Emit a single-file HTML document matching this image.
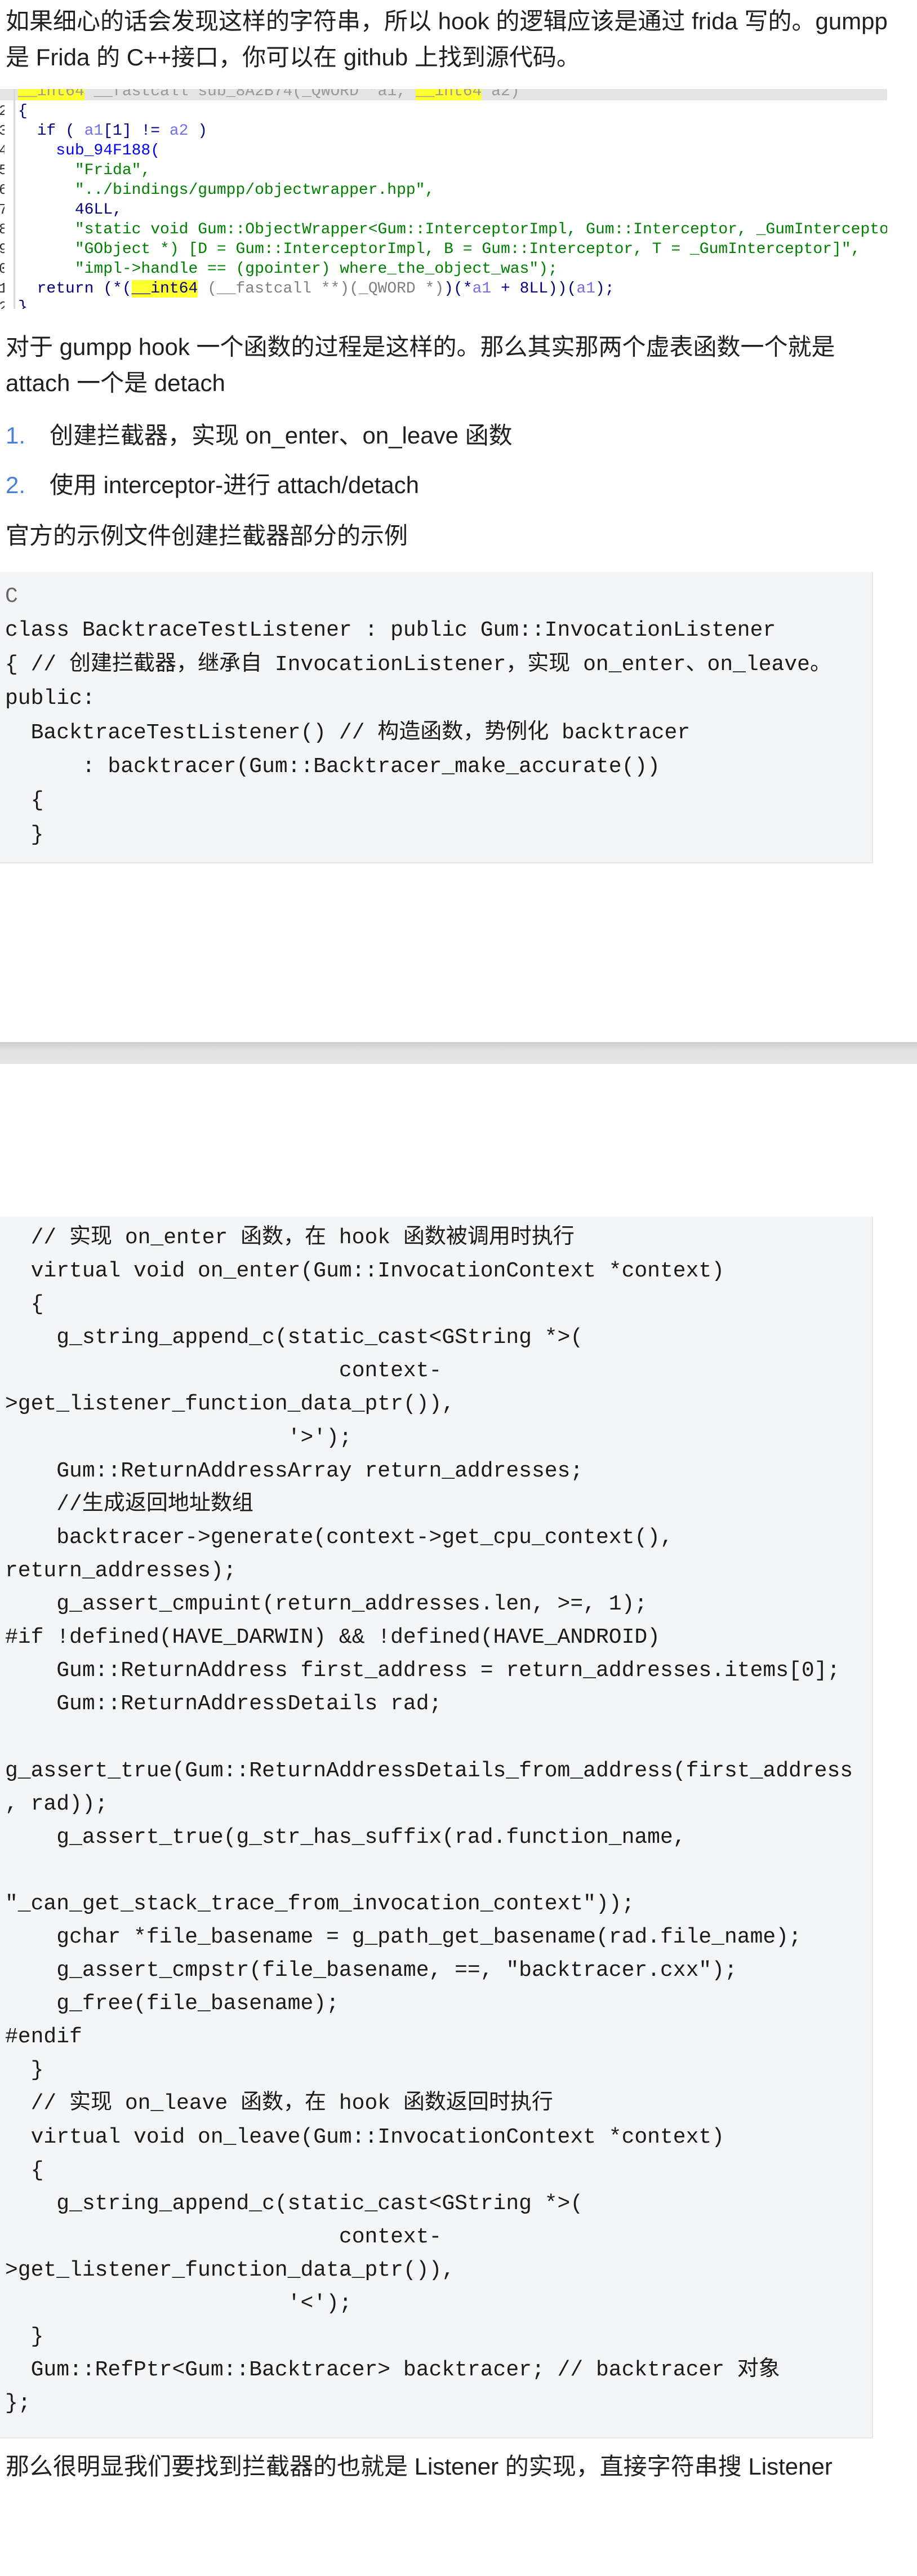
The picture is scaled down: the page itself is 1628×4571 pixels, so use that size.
<!DOCTYPE html>
<html><head><meta charset="utf-8">
<style>
*{margin:0;padding:0;box-sizing:border-box}
html,body{width:1628px;height:4571px;background:#fff;overflow:hidden}
body{position:relative;font-family:"Liberation Sans","Noto Sans CJK SC",sans-serif;color:#1f1f1f}
.p{position:absolute;left:10px;font-size:42px;line-height:64px;white-space:nowrap}
.ida{position:absolute;left:0;top:158px;width:1575px;height:390px;overflow:hidden;background:#fff;font-family:"Liberation Mono","Noto Sans CJK SC",monospace;font-size:28px}
.ida .bar{position:absolute;left:0;top:0;width:1575px;height:20px;background:#e4e4e4}
.ida .gut{position:absolute;left:24px;top:0;width:3px;height:390px;background:#d8d8d8}
.ida .l{position:absolute;left:32px;white-space:pre;line-height:35px;height:35px}
.ida .n{position:absolute;left:-2px;white-space:pre;line-height:35px;color:#333;font-size:26px;width:10px;overflow:hidden}
.kw{color:#000080}.v{color:#7070f0}.f{color:#0000ff}.s{color:#008000}.g{color:#808080}.y{background:#ffff30}
.code{position:absolute;left:0;width:1550px;background:#f4f5f7;border-right:2px solid #e6e6e6;border-bottom:2px solid #e6e6e6;font-family:"Liberation Mono","Noto Sans CJK SC",monospace;font-size:38px;color:#1a1a1a;white-space:pre;padding-left:9px}
.sep{position:absolute;left:0;top:1849px;width:1628px;height:39px;background:linear-gradient(#cfcfcf,#e2e2e2 40%,#e4e4e4)}
.num{color:#4a80d8}
</style></head><body>
<div class="p" style="top:6px">如果细心的话会发现这样的字符串，所以 hook 的逻辑应该是通过 frida 写的。gumpp</div>
<div class="p" style="top:70px">是 Frida 的 C++接口，你可以在 github 上找到源代码。</div>

<div class="ida">
<div class="bar"></div>
<div class="gut"></div>
<div class="l" style="top:-13px;left:32px;color:#999"><span class="y">__int64</span> __fastcall sub_8A2B74(_QWORD *a1, <span class="y">__int64</span> a2)</div>
<div class="n" style="top:22px">2</div>
<div class="l kw" style="top:22px">{</div>
<div class="n" style="top:57px">3</div>
<div class="l" style="top:57px"><span class="kw">  if ( </span><span class="v">a1</span><span class="kw">[1] != </span><span class="v">a2</span><span class="kw"> )</span></div>
<div class="n" style="top:92px">4</div>
<div class="l f" style="top:92px">    sub_94F188(</div>
<div class="n" style="top:127px">5</div>
<div class="l s" style="top:127px">      "Frida",</div>
<div class="n" style="top:162px">6</div>
<div class="l s" style="top:162px">      "../bindings/gumpp/objectwrapper.hpp",</div>
<div class="n" style="top:197px">7</div>
<div class="l kw" style="top:197px">      46LL,</div>
<div class="n" style="top:232px">8</div>
<div class="l s" style="top:232px">      "static void Gum::ObjectWrapper&lt;Gum::InterceptorImpl, Gum::Interceptor, _GumInterceptor&gt;::vtable</div>
<div class="n" style="top:267px">9</div>
<div class="l s" style="top:267px">      "GObject *) [D = Gum::InterceptorImpl, B = Gum::Interceptor, T = _GumInterceptor]",</div>
<div class="n" style="top:302px">0</div>
<div class="l s" style="top:302px">      "impl-&gt;handle == (gpointer) where_the_object_was");</div>
<div class="n" style="top:337px">1</div>
<div class="l kw" style="top:337px">  return (*(<span class="y">__int64</span> <span class="g">(__fastcall **)(_QWORD *)</span>)(*<span class="v">a1</span> + 8LL))(<span class="v">a1</span>);</div>
<div class="n" style="top:370px">2</div>
<div class="l kw" style="top:370px">}</div>
</div>

<div class="p" style="top:584px">对于 gumpp hook 一个函数的过程是这样的。那么其实那两个虚表函数一个就是</div>
<div class="p" style="top:648px">attach 一个是 detach</div>
<div class="p" style="top:741px"><span class="num">1.</span></div>
<div class="p" style="top:741px;left:88px">创建拦截器，实现 on_enter、on_leave 函数</div>
<div class="p" style="top:829px"><span class="num">2.</span></div>
<div class="p" style="top:829px;left:88px">使用 interceptor-进行 attach/detach</div>
<div class="p" style="top:919px">官方的示例文件创建拦截器部分的示例</div>

<div class="code" style="top:1015px;height:517px;padding-top:14px;line-height:60.4px"><span style="color:#666">C</span>
class BacktraceTestListener : public Gum::InvocationListener
{ // 创建拦截器，继承自 InvocationListener，实现 on_enter、on_leave。
public:
  BacktraceTestListener() // 构造函数，势例化 backtracer
      : backtracer(Gum::Backtracer_make_accurate())
  {
  }</div>

<div class="sep"></div>

<div class="code" style="top:2159px;height:2168px;padding-top:8px;line-height:59.1px">  // 实现 on_enter 函数，在 hook 函数被调用时执行
  virtual void on_enter(Gum::InvocationContext *context)
  {
    g_string_append_c(static_cast&lt;GString *&gt;(
                          context-
&gt;get_listener_function_data_ptr()),
                      '&gt;');
    Gum::ReturnAddressArray return_addresses;
    //生成返回地址数组
    backtracer-&gt;generate(context-&gt;get_cpu_context(),
return_addresses);
    g_assert_cmpuint(return_addresses.len, &gt;=, 1);
#if !defined(HAVE_DARWIN) &amp;&amp; !defined(HAVE_ANDROID)
    Gum::ReturnAddress first_address = return_addresses.items[0];
    Gum::ReturnAddressDetails rad;

g_assert_true(Gum::ReturnAddressDetails_from_address(first_address
, rad));
    g_assert_true(g_str_has_suffix(rad.function_name,

"_can_get_stack_trace_from_invocation_context"));
    gchar *file_basename = g_path_get_basename(rad.file_name);
    g_assert_cmpstr(file_basename, ==, "backtracer.cxx");
    g_free(file_basename);
#endif
  }
  // 实现 on_leave 函数，在 hook 函数返回时执行
  virtual void on_leave(Gum::InvocationContext *context)
  {
    g_string_append_c(static_cast&lt;GString *&gt;(
                          context-
&gt;get_listener_function_data_ptr()),
                      '&lt;');
  }
  Gum::RefPtr&lt;Gum::Backtracer&gt; backtracer; // backtracer 对象
};</div>

<div class="p" style="top:4345px">那么很明显我们要找到拦截器的也就是 Listener 的实现，直接字符串搜 Listener</div>
</body></html>
